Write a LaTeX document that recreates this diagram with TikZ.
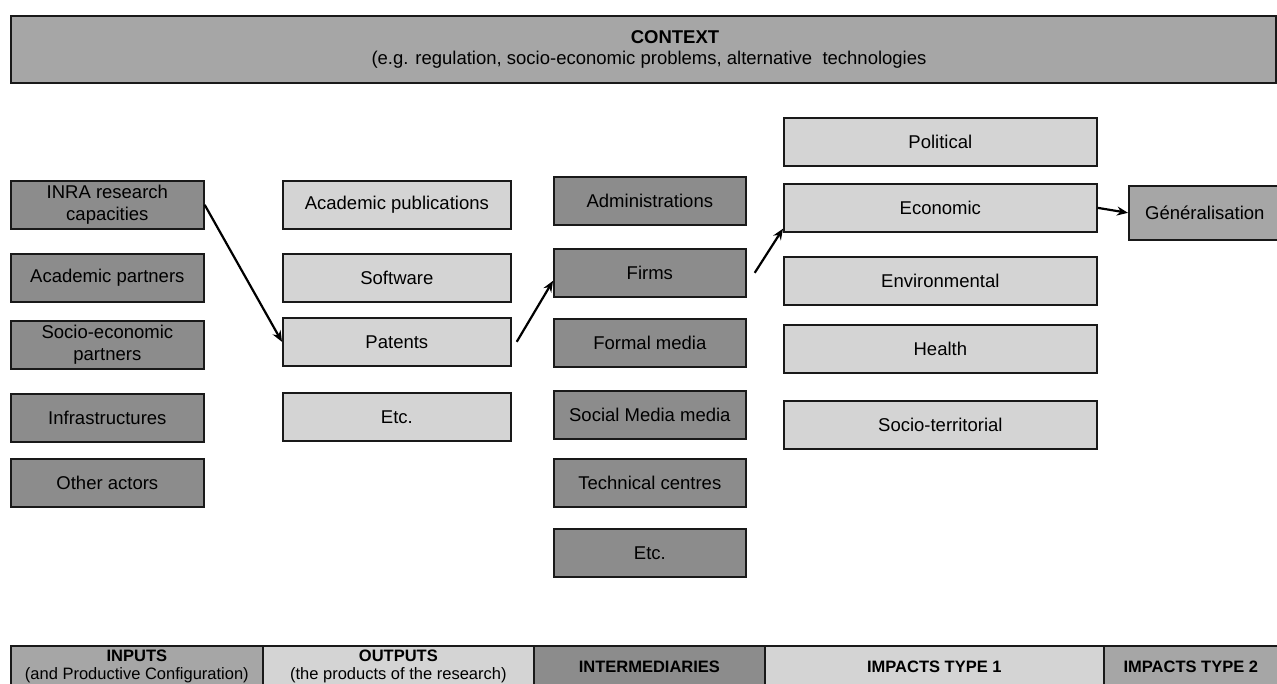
\documentclass[tikz,border=0pt]{standalone}
\usepackage{fontspec}
\setmainfont{Liberation Sans}
\usetikzlibrary{arrows.meta}
\definecolor{dk}{HTML}{8C8C8C}
\definecolor{md}{HTML}{A6A6A6}
\definecolor{lt}{HTML}{D4D4D4}
\begin{document}
\begin{tikzpicture}[x=1pt,y=-1pt,
  box/.style={draw=black!90, line width=1.7pt, anchor=north west, inner sep=2pt, align=center,
    font=\fontsize{18.5}{22}\selectfont},
  dkbox/.style={box, fill=dk, minimum width=193pt, minimum height=48pt},
  ltbox/.style={box, fill=lt, minimum height=48pt},
  cell/.style={box, minimum height=42pt, font=\fontsize{16.5}{18}\selectfont},
  txt/.style={inner sep=0pt, font=\fontsize{18.5}{22}\selectfont},
  arr/.style={-{Stealth[length=11pt,width=9pt]}, line width=2.2pt}
]
\useasboundingbox (0,0) rectangle (1277,684);

% context
\node[box, fill=md, minimum width=1265pt, minimum height=67pt] (context) at (10,15) {};
\node[txt] (ctitle) at (675,37) {\textbf{CONTEXT}};
\node[txt] (csub) at (649,60) {(e.g. regulation, socio-economic problems, alternative\ \ technologies};

% inputs
\node[dkbox] (inra) at (10,180) {INRA research\\capacities};
\node[dkbox] (acpart) at (10,253) {Academic partners};
\node[dkbox] (separt) at (10,320) {Socio-economic\\partners};
\node[dkbox] (infra) at (10,393) {Infrastructures};
\node[dkbox] (other) at (10,458) {Other actors};

% outputs
\node[ltbox, minimum width=228pt] (pubs) at (282,180) {Academic publications};
\node[ltbox, minimum width=228pt] (soft) at (282,253) {Software};
\node[ltbox, minimum width=228pt] (patents) at (282,317) {Patents};
\node[ltbox, minimum width=228pt] (oetc) at (282,392) {Etc.};

% intermediaries
\node[dkbox, minimum width=192pt] (admin) at (553,176) {Administrations};
\node[dkbox, minimum width=192pt] (firms) at (553,248) {Firms};
\node[dkbox, minimum width=192pt] (fmedia) at (553,318) {Formal media};
\node[dkbox, minimum width=192pt] (smedia) at (553,390) {Social Media media};
\node[dkbox, minimum width=192pt] (tech) at (553,458) {Technical centres};
\node[dkbox, minimum width=192pt] (ietc) at (553,528) {Etc.};

% impacts type 1
\node[ltbox, minimum width=313pt] (political) at (783,117) {Political};
\node[ltbox, minimum width=313pt] (economic) at (783,183) {Economic};
\node[ltbox, minimum width=313pt] (environ) at (783,256) {Environmental};
\node[ltbox, minimum width=313pt] (health) at (783,324) {Health};
\node[ltbox, minimum width=313pt] (socter) at (783,400) {Socio-territorial};

% impacts type 2
\node[box, fill=md, minimum width=152pt, minimum height=54pt] (gen) at (1128,185) {G\'en\'eralisation};

% arrows
\draw[arr] (inra.east) -- (patents.west);
\draw[arr] ([xshift=5pt]patents.east) -- ([yshift=-8pt]firms.west);
\draw[arr] ([xshift=8pt]firms.east) -- ([yshift=4pt]economic.south west);
\draw[arr] (economic.east) -- (gen.west);

% bottom bar
\node[cell, fill=md, minimum width=252pt] (binputs) at (10,645) {\textbf{INPUTS}\\(and Productive Configuration)};
\node[cell, fill=lt, minimum width=271pt] (boutputs) at (262,645) {\textbf{OUTPUTS}\\(the products of the research)};
\node[cell, fill=dk, minimum width=231pt] (binter) at (533,645) {\textbf{INTERMEDIARIES}};
\node[cell, fill=lt, minimum width=339pt] (bimp1) at (764,645) {\textbf{IMPACTS TYPE 1}};
\node[cell, fill=md, minimum width=174pt] (bimp2) at (1103,645) {\textbf{IMPACTS TYPE 2}};
\end{tikzpicture}
\end{document}
